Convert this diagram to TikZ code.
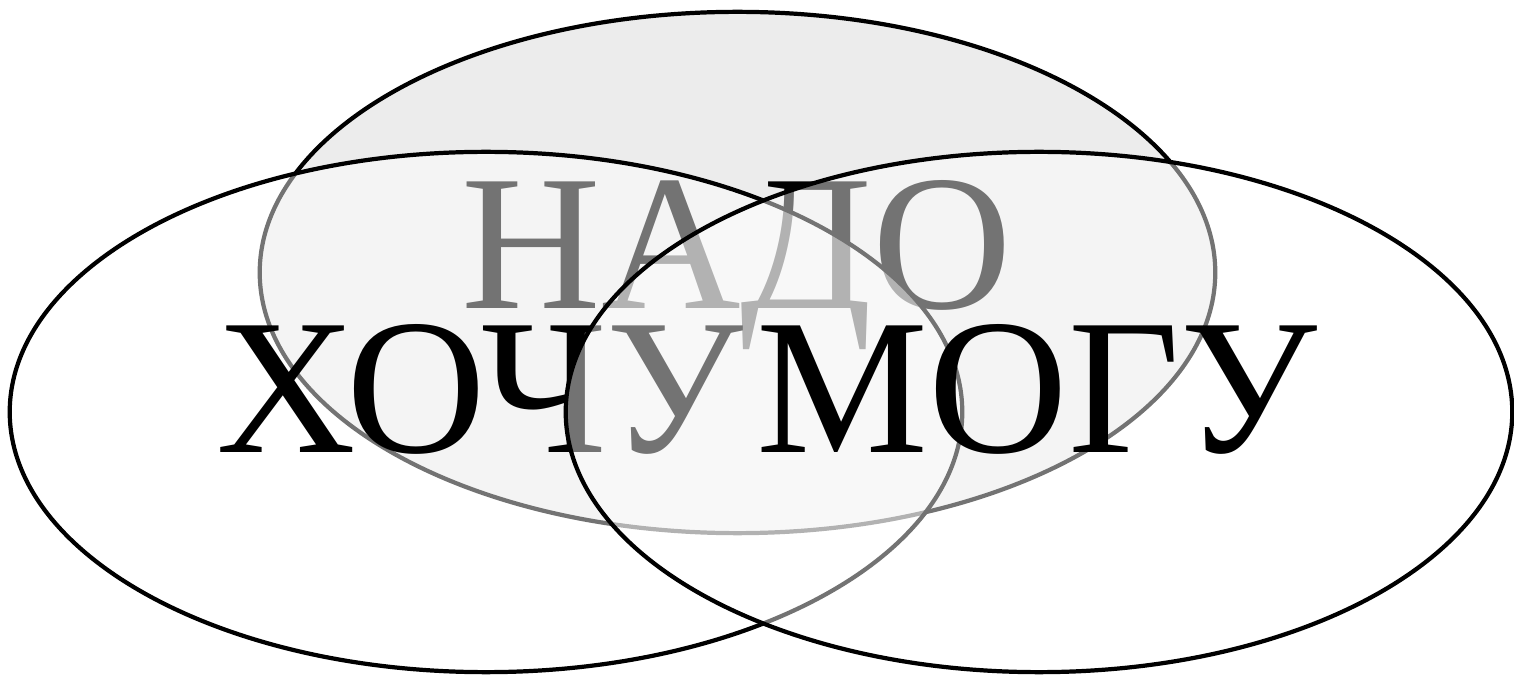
\documentclass[tikz,border=0pt]{standalone}
\usepackage{fontspec}
\setmainfont{Liberation Serif}
\usepackage{tikz}
\usetikzlibrary{shapes.geometric}
\usepackage{xcolor}
\definecolor{cNeed}{HTML}{ECECEC}
\definecolor{cVeil}{HTML}{FFFFFF}

\begin{document}
\begin{tikzpicture}[x=0.01cm, y=-0.01cm,
    setshape/.style={
        ellipse, draw=black, line width=1.2pt, inner sep=0pt,
        minimum width=#1, minimum height=5.2cm
    },
    veilset/.style={
        setshape=#1, fill=cVeil, fill opacity=0.45, draw opacity=1
    },
    word/.style={
        anchor=base, inner sep=0pt, text=black,
        font=\fontsize{55}{60}\selectfont
    },
]
\useasboundingbox (0,0) rectangle (1514,676);

% Top set – НАДО
\node[setshape=9.55cm, fill=cNeed, minimum height=5.21cm] (need) at (737.5,272.5) {};
\node[word] (nado) at (737,309) {НАДО};

% Left set – ХОЧУ
\node[veilset=9.52cm] (want) at (486,412) {};
\node[word] (hochu) at (480,453) {ХОЧУ};

% Right set – МОГУ
\node[veilset=9.46cm] (can) at (1039,412) {};
\node[word] (mogu) at (1037,453) {МОГУ};

\end{tikzpicture}
\end{document}
